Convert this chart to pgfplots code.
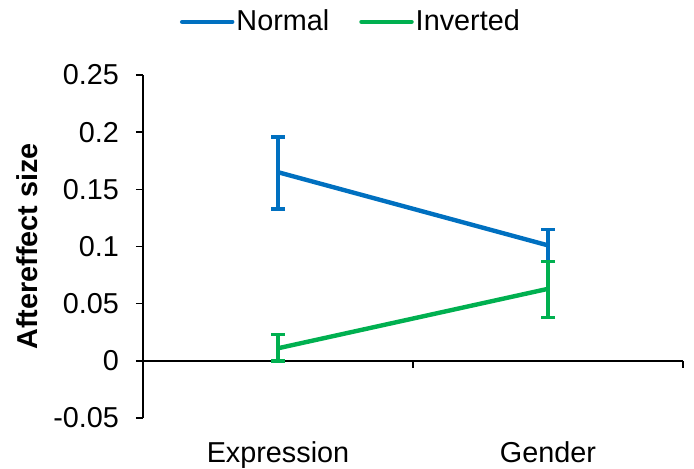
\documentclass[border=0pt]{standalone}
\usepackage{pgfplots}
\pgfplotsset{compat=1.18}
\usepackage{pgfplotstable}
\usepackage{fontspec}
\setmainfont{Liberation Sans}
\definecolor{cblue}{HTML}{0070C0}
\definecolor{cgreen}{HTML}{00B050}
\pgfplotstableread{
x y ep em
1 0.165 0.031 0.032
2 0.101 0.014 0.014
}\normal
\pgfplotstableread{
x y ep em
1 0.011 0.012 0.011
2 0.063 0.024 0.025
}\inverted
\begin{document}
\begin{tikzpicture}
\begin{axis}[
  scale only axis,
  width=270pt, height=171.5pt,
  xmin=0.5, xmax=2.5,
  ymin=-0.05, ymax=0.25,
  axis y line*=left,
  axis x line*=bottom,
  x axis line style={draw=none},
  ytick={-0.05,0,0.05,0.1,0.15,0.2,0.25},
  yticklabels={-0.05,0,0.05,0.1,0.15,0.2,0.25},
  xtick={1,2},
  xticklabels={Expression,Gender},
  major x tick style={draw=none},
  tick align=outside,
  major tick length=3.5pt,
  y axis line style={line width=0.8pt},
  major y tick style={line width=0.8pt, black},
  ticklabel style={font=\fontsize{14.4}{16}\selectfont},
  yticklabel style={xshift=-5pt},
  xticklabel style={yshift=-5pt},
  ylabel={\bfseries Aftereffect size},
  ylabel style={font=\fontsize{14.4}{16}\selectfont\bfseries, yshift=1pt},
  legend style={draw=none, at={(0.385,1.155)}, anchor=center, legend columns=2,
    font=\fontsize{14.4}{16}\selectfont, /tikz/every even column/.append style={column sep=14pt},
    inner sep=0pt, nodes={inner xsep=1pt}},
  legend image code/.code={\draw[#1, line width=2.2pt, line cap=round] (0cm,0cm) -- (0.88cm,0cm);},
  clip=false,
]
\draw[black, line width=0.8pt] (axis cs:0.5,0) -- (axis cs:2.5,0);
\draw[black, line width=0.8pt] (axis cs:1.5,0) -- ([yshift=-3.5pt]axis cs:1.5,0);
\draw[black, line width=0.8pt] (axis cs:2.5,0) -- ([yshift=-3.5pt]axis cs:2.5,0);
\addplot[cblue, line width=2.2pt, mark=none,
  error bars/.cd, y dir=both, y explicit,
  error bar style={line width=1.8pt, cblue},
  error mark options={rotate=90, mark size=3.5pt, line width=1.8pt, cblue}]
  table[x=x, y=y, y error plus=ep, y error minus=em] {\normal};
\addlegendentry{Normal}
\addplot[cgreen, line width=2.2pt, mark=none,
  error bars/.cd, y dir=both, y explicit,
  error bar style={line width=1.8pt, cgreen},
  error mark options={rotate=90, mark size=3.5pt, line width=1.8pt, cgreen}]
  table[x=x, y=y, y error plus=ep, y error minus=em] {\inverted};
\addlegendentry{Inverted}
\end{axis}
\pgfresetboundingbox
\path[use as bounding box] (-71.5pt,-25pt) rectangle (275.5pt,209pt);
\end{tikzpicture}
\end{document}
